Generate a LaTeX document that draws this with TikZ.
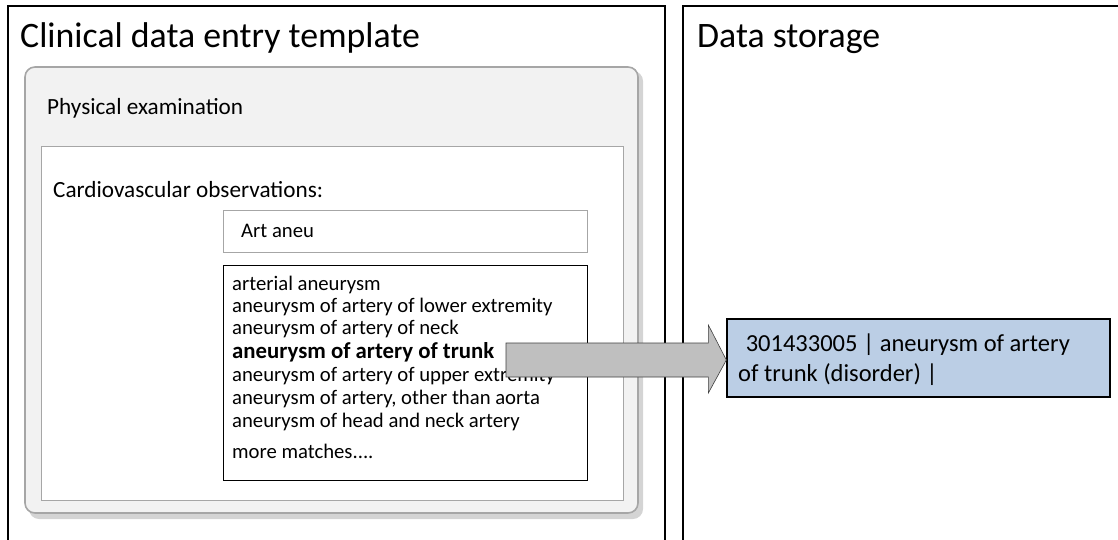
\documentclass[tikz,border=0pt]{standalone}
\usepackage{fontspec}
\setmainfont{Carlito}
\usetikzlibrary{calc}
\definecolor{panelgray}{HTML}{F2F2F2}
\definecolor{edgegray}{HTML}{A6A6A6}
\definecolor{shadegray}{HTML}{D4D4D4}
\definecolor{arrowgray}{HTML}{BFBFBF}
\definecolor{codeblue}{HTML}{BBCEE5}
\tikzset{
	panel/.style={draw=black, line width=1.2pt},
	label/.style={anchor=base west, inner sep=0pt, font=#1},
	label/.default={\fontsize{20.7}{24}\selectfont},
	fieldbox/.style={draw=edgegray, line width=1pt, fill=white},
	listbox/.style={draw=black, line width=0.8pt, fill=white},
	codebox/.style={draw=black, line width=1.3pt, fill=codeblue, inner sep=0pt},
	blockarrow/.style={fill=arrowgray, draw=black!75, line width=0.6pt},
}
\newcommand{\titlefont}{\fontsize{35.8}{42}\selectfont}
\newcommand{\headfont}{\fontsize{23.2}{27}\selectfont}
\newcommand{\codefont}{\fontsize{24.5}{29}\selectfont}
\begin{document}
\begin{tikzpicture}[x=1pt,y=-1pt]
	\useasboundingbox (0,0) rectangle (1118,540);
	% two panels, open at the bottom
	\draw[panel] (8,540) -- (8,6) -- (665,6) -- (665,540);
	\draw[panel] (683,540) -- (683,6) -- (1118,6);
	\node[label=\titlefont] (entrytitle) at (20,48) {Clinical data entry template};
	\node[label=\titlefont] (storetitle) at (697,48) {Data storage};
	% form section
	\fill[shadegray, rounded corners=10pt] (29,71) rectangle (643,519);
	\draw[fill=panelgray, draw=edgegray, line width=1.6pt, rounded corners=10pt] (25,67) rectangle (638,513);
	\node[label=\headfont] (exam) at (47,115) {Physical examination};
	\draw[fieldbox] (41,147) rectangle (623,500);
	\node[label=\headfont] (cardio) at (53,197) {Cardiovascular observations:};
	\draw[fieldbox] (223,210) rectangle (587,252);
	\node[label] (typed) at (241,237) {Art aneu};
	\draw[listbox] (223,265) rectangle (587,480);
	\node[label] (m1) at (232,290) {arterial aneurysm};
	\node[label] (m2) at (232,312) {aneurysm of artery of lower extremity};
	\node[label={\fontsize{22.8}{26}\selectfont\bfseries}] (m4) at (232,358) {aneurysm of artery of trunk};
	\node[label] (m3) at (232,334) {aneurysm of artery of neck};
	\node[label] (m5) at (232,381) {aneurysm of artery of upper extremity};
	\node[label] (m6) at (232,404) {aneurysm of artery, other than aorta};
	\node[label] (m7) at (232,427) {aneurysm of head and neck artery};
	\node[label] (more) at (232,458) {more matches....};
	% stored concept
	\node[codebox, minimum width=383pt, minimum height=78pt] (code) at (918.5,358) {};
	\node[label=\codefont] (code1) at (740,351) {\ 301433005 | aneurysm of artery};
	\node[label=\codefont] (code2) at (738,381) {of trunk (disorder) |};
	\coordinate (tail) at (506,360);
	\draw[blockarrow] ($(tail)+(0,-17)$) -- ($(tail -| code.west)+(-18,-17)$)
		-- ($(tail -| code.west)+(-18,-35)$) -- (tail -| code.west)
		-- ($(tail -| code.west)+(-18,33)$) -- ($(tail -| code.west)+(-18,17)$)
		-- ($(tail)+(0,17)$) -- cycle;
\end{tikzpicture}
\end{document}
